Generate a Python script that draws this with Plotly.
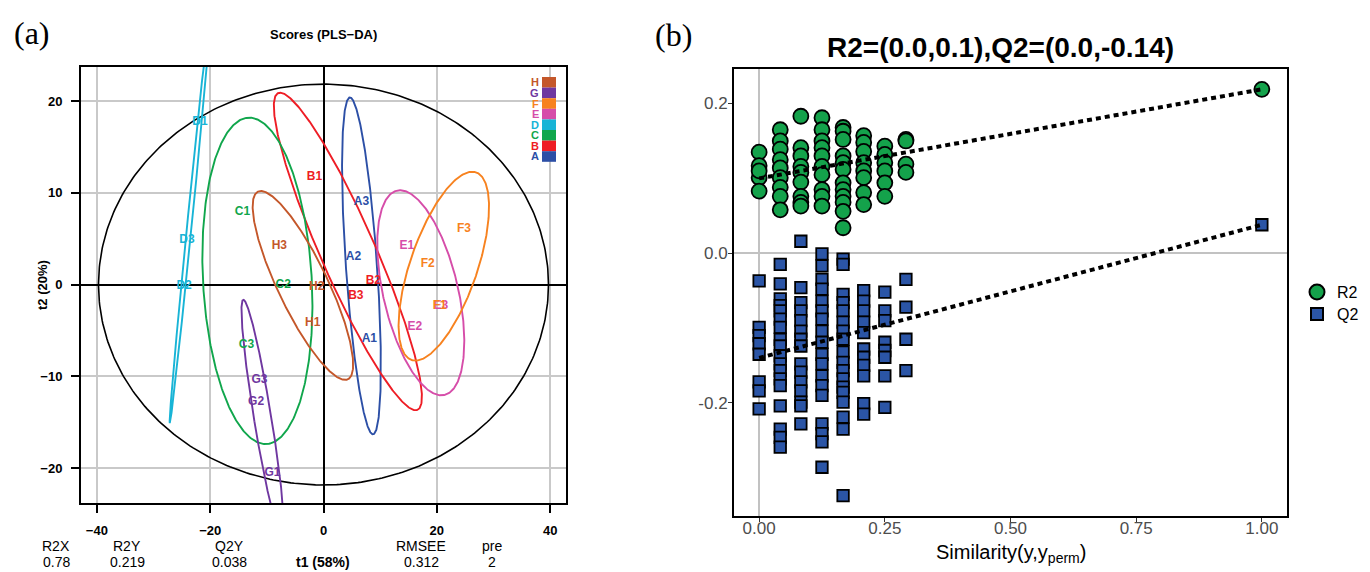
import numpy as np
import plotly.graph_objects as go

W, H = 1370, 572
SANS = "Liberation Sans"
SERIF = "Liberation Serif"


def paper(xp, yp):
    """Pixel position on the page -> paper coordinates."""
    return xp / W, 1 - yp / H


# ---------------- (a) PLS-DA scores ----------------
group_names = ["A", "B", "C", "D", "E", "F", "G", "H"]
group_colors = ["#2C4FA6", "#EE1D25", "#10A64C", "#18B4D6",
                "#D64DA9", "#F7821F", "#6F37A0", "#C4572A"]

sample_names = ["A1", "A2", "A3", "B1", "B2", "B3", "C1", "C2", "C3",
                "D1", "D2", "D3", "E1", "E2", "E3", "F1", "F2", "F3",
                "G1", "G2", "G3", "H1", "H2", "H3"]
t1_scores = [8.1, 5.3, 6.7, -1.6, 8.8, 5.7, -14.3, -7.1, -13.6,
             -21.8, -24.6, -24.1, 14.7, 16.1, 20.7, 20.5, 18.4, 24.8,
             -9.0, -11.9, -11.3, -1.9, -1.2, -7.8]
t2_scores = [-5.9, 3.0, 9.0, 11.7, 0.4, -1.3, 7.9, -0.1, -6.6,
             17.7, -0.2, 4.9, 4.2, -4.6, -2.3, -2.3, 2.2, 6.1,
             -20.5, -12.8, -10.4, -4.2, -0.3, 4.2]

stat_names = ["R2X", "R2Y", "Q2Y", "RMSEE", "pre"]
stat_values = ["0.78", "0.219", "0.038", "0.312", "2"]
t1_pct, t2_pct = 58, 20

# ---------------- (b) permutation test ----------------
similarity_levels = [0.0, 0.042, 0.083, 0.125, 0.167, 0.208, 0.25, 0.292]
r2_perm = [
    [0.135, 0.117, 0.101, 0.083, 0.110],
    [0.165, 0.150, 0.139, 0.125, 0.114, 0.101, 0.088, 0.076, 0.058],
    [0.183, 0.141, 0.130, 0.116, 0.108, 0.095, 0.076, 0.068, 0.063],
    [0.181, 0.165, 0.150, 0.141, 0.130, 0.116, 0.105, 0.085, 0.076, 0.063],
    [0.168, 0.163, 0.152, 0.130, 0.121, 0.112, 0.094, 0.085, 0.076, 0.068, 0.056, 0.034],
    [0.157, 0.148, 0.136, 0.121, 0.110, 0.101, 0.081, 0.065],
    [0.143, 0.132, 0.121, 0.110, 0.094, 0.076],
    [0.152, 0.150, 0.119, 0.108],
]
q2_perm = [
    [-0.037, -0.099, -0.110, -0.121, -0.135, -0.172, -0.184, -0.208],
    [-0.015, -0.041, -0.061, -0.070, -0.077, -0.088, -0.099, -0.115, -0.124,
     -0.137, -0.148, -0.157, -0.168, -0.177, -0.204, -0.235, -0.246, -0.259],
    [0.016, -0.046, -0.066, -0.077, -0.090, -0.104, -0.115, -0.124, -0.148,
     -0.159, -0.172, -0.184, -0.199, -0.204, -0.228],
    [-0.001, -0.017, -0.035, -0.048, -0.064, -0.077, -0.088, -0.104, -0.119,
     -0.135, -0.148, -0.164, -0.177, -0.190, -0.228, -0.241, -0.252, -0.286],
    [-0.008, -0.015, -0.055, -0.066, -0.077, -0.092, -0.104, -0.115, -0.132,
     -0.146, -0.157, -0.168, -0.179, -0.186, -0.199, -0.219, -0.235, -0.324],
    [-0.050, -0.064, -0.077, -0.092, -0.106, -0.128, -0.139, -0.150, -0.164,
     -0.201, -0.215],
    [-0.052, -0.077, -0.090, -0.119, -0.130, -0.139, -0.164, -0.206],
    [-0.035, -0.072, -0.115, -0.157],
]
model_similarity = 1.0
r2_model, q2_model = 0.219, 0.038
r2_intercept, q2_intercept = 0.1, -0.14
perm_title = "R2=(0.0,0.1),Q2=(0.0,-0.14)"
perm_series = ["R2", "Q2"]

GREEN = "#14A24B"
BLUE = "#2B55A6"

# ---------------- ellipse helpers ----------------
theta = np.linspace(0, 2 * np.pi, 400)


def cov_ellipse(x, y, scale):
    pts = np.vstack([x, y])
    mu = pts.mean(axis=1)
    vals, vecs = np.linalg.eigh(np.cov(pts))
    vals = np.clip(vals, 0, None)
    circ = np.vstack([np.cos(theta), np.sin(theta)])
    e = vecs @ (np.sqrt(vals)[:, None] * scale * circ) + mu[:, None]
    return e[0], e[1]


t1 = np.array(t1_scores)
t2 = np.array(t2_scores)
sample_groups = [s[0] for s in sample_names]
color_of = dict(zip(group_names, group_colors))

fig = go.Figure()

# Hotelling T2 (95%) ellipse on the score space
n = len(t1)
f95 = ((n - 2) / 2) * (0.05 ** (-2 / (n - 2)) - 1)  # F(0.95; 2, n-2)
hot = (n - 1) * 2 * (n ** 2 - 1) / (n ** 2 * (n - 2)) * f95
ha = np.sqrt(np.var(t1, ddof=1) * hot)
hb = np.sqrt(np.var(t2, ddof=1) * hot)
fig.add_trace(go.Scatter(x=ha * np.cos(theta), y=hb * np.sin(theta), mode="lines",
                         line=dict(color="black", width=1.6), hoverinfo="skip",
                         showlegend=False, xaxis="x", yaxis="y"))

# per-group 95% ellipses
chi2_scale = np.sqrt(-2 * np.log(0.05))
for g in group_names:
    idx = [i for i, s in enumerate(sample_groups) if s == g]
    ex, ey = cov_ellipse(t1[idx], t2[idx], chi2_scale)
    fig.add_trace(go.Scatter(x=ex, y=ey, mode="lines",
                             line=dict(color=color_of[g], width=1.9),
                             hoverinfo="skip", showlegend=False,
                             xaxis="x", yaxis="y"))

# sample labels at their scores
fig.add_trace(go.Scatter(x=t1, y=t2, mode="text", text=sample_names,
                         textfont=dict(family=SANS, size=12, weight="bold",
                                       color=[color_of[g] for g in sample_groups]),
                         textposition="middle center", showlegend=False,
                         xaxis="x", yaxis="y"))

# ---------------- permutation plot ----------------
r2_x, r2_y, q2_x, q2_y = [], [], [], []
for s, vals in zip(similarity_levels, r2_perm):
    r2_x += [s] * len(vals)
    r2_y += vals
for s, vals in zip(similarity_levels, q2_perm):
    q2_x += [s] * len(vals)
    q2_y += vals
r2_x.append(model_similarity); r2_y.append(r2_model)
q2_x.append(model_similarity); q2_y.append(q2_model)

fig.add_trace(go.Scatter(x=r2_x, y=r2_y, mode="markers", name=perm_series[0],
                         marker=dict(symbol="circle", size=15, color=GREEN,
                                     line=dict(color="black", width=1.8)),
                         showlegend=False, xaxis="x2", yaxis="y2"))
fig.add_trace(go.Scatter(x=q2_x, y=q2_y, mode="markers", name=perm_series[1],
                         marker=dict(symbol="square", size=11.5, color=BLUE,
                                     line=dict(color="black", width=1.8)),
                         showlegend=False, xaxis="x2", yaxis="y2"))
for b0, b1 in [(r2_intercept, r2_model), (q2_intercept, q2_model)]:
    fig.add_trace(go.Scatter(x=[0, model_similarity], y=[b0, b1], mode="lines",
                             line=dict(color="black", width=4, dash="5px,4px"),
                             hoverinfo="skip", showlegend=False,
                             xaxis="x2", yaxis="y2"))

all_perm = np.array(r2_y + q2_y)
span = all_perm.max() - all_perm.min()
y2_range = [all_perm.min() - 0.05 * span, all_perm.max() + 0.05 * span]

# ---------------- layout ----------------
ax_a = dict(showline=True, mirror=True, linecolor="black", linewidth=2,
            ticks="outside", ticklen=8, tickwidth=1.5, tickcolor="black",
            showgrid=True, gridcolor="#C9C9C9", gridwidth=1.5,
            zeroline=True, zerolinecolor="black", zerolinewidth=2,
            tickfont=dict(family=SANS, size=13, color="black", weight="bold"))
ax_b = dict(showline=True, mirror=True, linecolor="black", linewidth=2,
            ticks="outside", ticklen=4, tickwidth=1.2, tickcolor="#333333",
            showgrid=False, zeroline=True, zerolinecolor="#C2C2C2", zerolinewidth=2,
            tickfont=dict(family=SANS, size=17, color="#4D4D4D"))

fig.update_layout(
    width=W, height=H, margin=dict(l=0, r=0, t=0, b=0),
    paper_bgcolor="white", plot_bgcolor="white",
    xaxis=dict(ax_a, domain=[81 / W, 566 / W], anchor="y", range=[-42.8, 42.8],
               tickvals=[-40, -20, 0, 20, 40],
               ticktext=["\u221240", "\u221220", "0", "20", "40"],
               ticklabelstandoff=6),
    yaxis=dict(ax_a, domain=[1 - 503 / H, 1 - 67 / H], anchor="x", range=[-23.8, 23.7],
               tickvals=[-20, -10, 0, 10, 20],
               ticktext=["\u221220", "\u221210", "0", "10", "20"],
               ticklabelstandoff=6),
    xaxis2=dict(ax_b, domain=[734 / W, 1287 / W], anchor="y2", range=[-0.05, 1.05],
                tickvals=[0, 0.25, 0.5, 0.75, 1.0],
                ticktext=["0.00", "0.25", "0.50", "0.75", "1.00"],
                ticklabelstandoff=-8),
    yaxis2=dict(ax_b, domain=[1 - 516 / H, 1 - 69 / H], anchor="x2", range=y2_range,
                tickvals=[-0.2, 0.0, 0.2], ticktext=["-0.2", "0.0", "0.2"],
                ticklabelstandoff=-3),
    showlegend=False,
)

ann = []


def add_text(xp, yp, text, size, family=SANS, color="black", angle=0, xanchor="center"):
    x, y = paper(xp, yp)
    ann.append(dict(x=x, y=y, xref="paper", yref="paper", text=text, showarrow=False,
                    font=dict(family=family, size=size, color=color), textangle=angle,
                    xanchor=xanchor, yanchor="middle"))


add_text(32, 33, "(a)", 32, family=SERIF)
add_text(673, 35, "(b)", 32, family=SERIF)
add_text(323, 35, "<b>Scores (PLS\u2212DA)</b>", 13)
add_text(42, 285, f"<b>t2 ({t2_pct}%)</b>", 13, angle=-90)
add_text(323, 562, f"<b>t1 ({t1_pct}%)</b>", 14)
for xp, name, val in zip([56, 127, 230, 421, 492], stat_names, stat_values):
    add_text(xp, 546, name, 14)
    add_text(xp, 562, val, 14)

# class colour key, top-right inside the score plot
key_top, key_h = 77, 10.6
for i, g in enumerate(reversed(group_names)):
    c = color_of[g]
    y0 = key_top + i * key_h
    x0p, y0p = paper(542, y0)
    x1p, y1p = paper(556, y0 + key_h)
    fig.add_shape(type="rect", xref="paper", yref="paper", x0=x0p, x1=x1p,
                  y0=y1p, y1=y0p, fillcolor=c, line=dict(width=0), layer="above")
    x, y = paper(541, y0 + key_h / 2)
    ann.append(dict(x=x, y=y, xref="paper", yref="paper", text=f"<b>{g}</b>",
                    showarrow=False, xanchor="right", yanchor="middle",
                    font=dict(family=SANS, size=11, color=c)))

# key for the permutation plot (circle = R2, square = Q2)
for yp, sym, col, label in [(292, "circle", GREEN, perm_series[0]),
                            (314, "square", BLUE, perm_series[1])]:
    half = 7.5 if sym == "circle" else 6
    xa, ya = paper(1317 - half, yp - half)
    xb, yb = paper(1317 + half, yp + half)
    fig.add_shape(type="circle" if sym == "circle" else "rect",
                  xref="paper", yref="paper", x0=xa, x1=xb, y0=yb, y1=ya,
                  fillcolor=col, line=dict(color="black", width=2))
    add_text(1335, yp, label, 16, xanchor="left")

add_text(1000, 47, f"<b>{perm_title}</b>", 28)
add_text(1011, 553, "Similarity(y,y<sub>perm</sub>)", 20)

fig.update_layout(annotations=ann)
fig.write_html("out.html")
